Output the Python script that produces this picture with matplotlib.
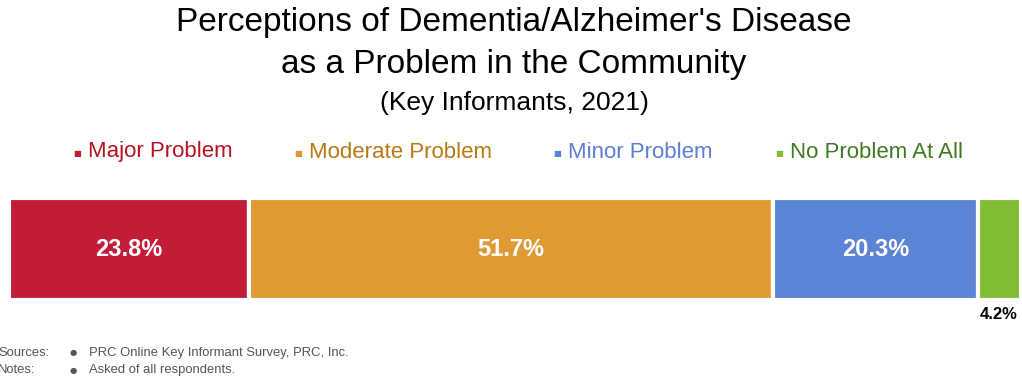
import matplotlib
matplotlib.use("Agg")
import matplotlib.pyplot as plt

categories = ["Major Problem", "Moderate Problem", "Minor Problem", "No Problem At All"]
values = [23.8, 51.7, 20.3, 4.2]
bar_colors = ["#C11C38", "#E09A34", "#5B84D6", "#80BD33"]
text_colors = ["#B8111F", "#B87812", "#5B7FD6", "#3F7A22"]

plt.rcParams["font.family"] = ["Liberation Sans", "DejaVu Sans"]
narrow = ["Liberation Sans Narrow", "Liberation Sans", "DejaVu Sans"]

fig = plt.figure(figsize=(10.22, 3.80), dpi=100)
ax = fig.add_axes([8.5 / 1022, 80 / 380, 1012 / 1022, 102 / 380])

left = 0
for v, c in zip(values, bar_colors):
    ax.barh(0, v, left=left, height=1, color=c, edgecolor="white", linewidth=3)
    if v > 10:
        ax.text(left + v / 2, 0, f"{v:.1f}%", ha="center", va="center",
                color="white", fontsize=17, fontweight="bold", family=narrow)
    else:
        ax.text(left + v / 2 - 0.1, -0.64, f"{v:.1f}%", ha="center", va="center",
                color="black", fontsize=12, fontweight="bold", family=narrow)
    left += v

ax.set_xlim(0, 100)
ax.set_ylim(-0.5, 0.5)
ax.axis("off")

# titles
fig.text(0.503, 1 - 23 / 380, "Perceptions of Dementia/Alzheimer's Disease", ha="center",
         va="center", fontsize=24)
fig.text(0.503, 1 - 65 / 380, "as a Problem in the Community", ha="center",
         va="center", fontsize=24)
fig.text(0.503, 1 - 103 / 380, "(Key Informants, 2021)", ha="center",
         va="center", fontsize=19)

# legend
marker_x = [77, 298, 557, 779]
for mx, lab, bc, tc in zip(marker_x, categories, bar_colors, text_colors):
    fig.text(mx / 1022, 1 - 154 / 380, "■", color=bc, fontsize=6, ha="center", va="center",
             family="DejaVu Sans")
    fig.text((mx + 11) / 1022, 1 - 152 / 380, lab, color=tc, fontsize=16,
             ha="left", va="center")

# footer
gray = "#555555"
fig.text(-2 / 1022, 1 - 353 / 380, "Sources:", color=gray, fontsize=9.4, va="center")
fig.text(-2 / 1022, 1 - 370 / 380, "Notes:", color=gray, fontsize=9.4, va="center")
fig.text(70 / 1022, 1 - 353 / 380, "●", color=gray, fontsize=6, va="center", family="DejaVu Sans")
fig.text(70 / 1022, 1 - 370 / 380, "●", color=gray, fontsize=6, va="center", family="DejaVu Sans")
fig.text(89 / 1022, 1 - 353 / 380, "PRC Online Key Informant Survey, PRC, Inc.", color=gray,
         fontsize=9.4, va="center")
fig.text(89 / 1022, 1 - 370 / 380, "Asked of all respondents.", color=gray,
         fontsize=9.4, va="center")

fig.savefig("out.png", dpi=100)
